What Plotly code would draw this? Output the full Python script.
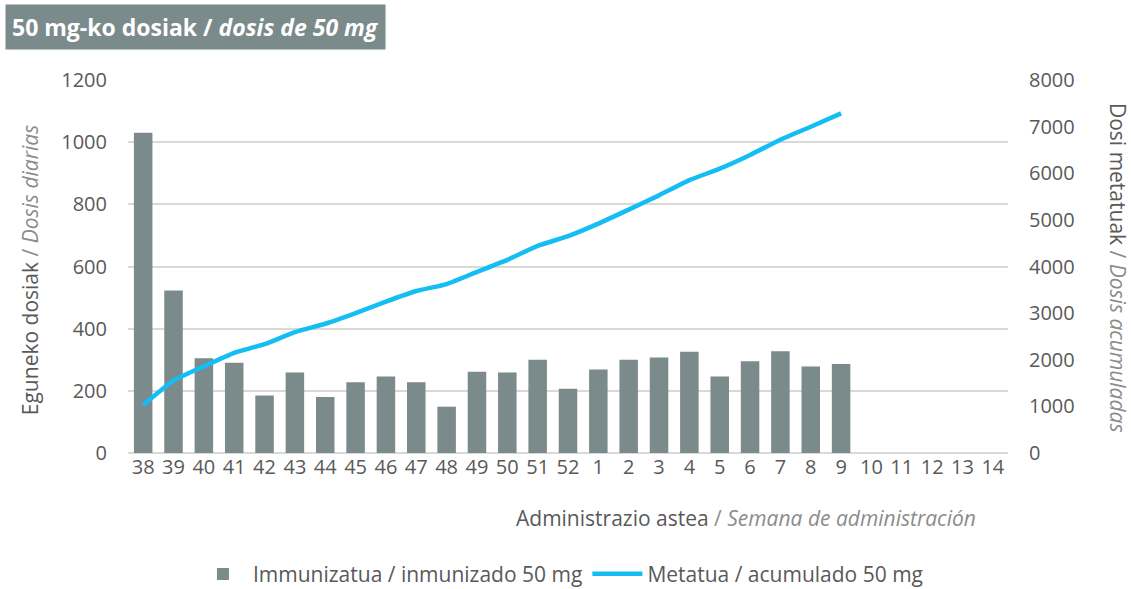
import plotly.graph_objects as go

weeks = ["38", "39", "40", "41", "42", "43", "44", "45", "46", "47", "48", "49", "50", "51", "52",
         "1", "2", "3", "4", "5", "6", "7", "8", "9", "10", "11", "12", "13", "14"]
daily = [1030, 523, 305, 290, 185, 259, 180, 228, 246, 228, 149, 261, 259, 300, 207,
         269, 300, 307, 326, 246, 295, 327, 278, 286, None, None, None, None, None]
cumulative = [1030, 1553, 1858, 2148, 2333, 2592, 2772, 3000, 3246, 3474, 3623, 3884, 4143, 4443, 4650,
              4919, 5219, 5526, 5852, 6098, 6393, 6720, 6998, 7284, None, None, None, None, None]

BAR = "#7B8B8B"
LINE = "#14BEF3"
TXT = "#595959"
LIGHT = "#8C8C8C"
FONT = "Open Sans"
TS = 21

fig = go.Figure()
fig.add_trace(go.Bar(x=weeks, y=daily, name="Immunizatua / inmunizado 50 mg",
                     marker=dict(color=BAR, line=dict(width=0))))
fig.add_trace(go.Scatter(x=weeks, y=cumulative, name="Metatua / acumulado 50 mg",
                         mode="lines", line=dict(color=LINE, width=4.5, shape="spline", smoothing=0.5),
                         yaxis="y2"))

fig.update_layout(
    width=1131, height=589,
    margin=dict(l=128, r=123, t=80, b=136, autoexpand=False),
    paper_bgcolor="white", plot_bgcolor="white",
    font=dict(family=FONT, size=TS, color=TXT),
    bargap=0.39,
    showlegend=True,
    legend=dict(orientation="h", x=0.492, xanchor="center", y=-0.325, yanchor="middle",
                font=dict(size=TS, color=TXT), itemwidth=50, traceorder="normal",
                tracegroupgap=0, borderwidth=0),
    xaxis=dict(type="category", showgrid=False, showline=False, zeroline=False,
               tickfont=dict(size=20, color=TXT), ticks=""),
    yaxis=dict(range=[0, 1200], dtick=200, showgrid=True, gridcolor="#D9D9D9", gridwidth=1.5,
               zeroline=True, zerolinecolor="#D9D9D9", zerolinewidth=1.5, showline=False,
               tickfont=dict(size=20, color=TXT), ticklabelstandoff=20),
    yaxis2=dict(range=[0, 8000], dtick=1000, overlaying="y", side="right", showgrid=False,
                zeroline=False, showline=False, tickfont=dict(size=20, color=TXT),
                ticklabelstandoff=20),
)

fig.add_annotation(xref="paper", yref="paper", x=-0.1398, y=1.204, xanchor="left", yanchor="top",
                   text="<b>50 mg-ko dosiak / <i>dosis de 50 mg</i></b>",
                   font=dict(family=FONT, size=23, color="white"),
                   bgcolor=BAR, borderpad=6, showarrow=False)
fig.add_annotation(xref="paper", yref="paper", x=-0.1114, y=0.49, xanchor="center", yanchor="middle",
                   textangle=-90,
                   text=f"Eguneko dosiak <span style='color:{LIGHT}'>/ <i>Dosis diarias</i></span>",
                   font=dict(family=FONT, size=TS, color=TXT), showarrow=False)
fig.add_annotation(xref="paper", yref="paper", x=1.125, y=0.496, xanchor="center", yanchor="middle",
                   textangle=90,
                   text=f"Dosi metatuak <span style='color:{LIGHT}'>/ <i>Dosis acumuladas</i></span>",
                   font=dict(family=FONT, size=TS, color=TXT), showarrow=False)
fig.add_annotation(xref="paper", yref="paper", x=0.966, y=-0.174, xanchor="right", yanchor="middle",
                   text=f"Administrazio astea <span style='color:{LIGHT}'>/ <i>Semana de administración</i></span>",
                   font=dict(family=FONT, size=TS, color=TXT), showarrow=False)

fig.write_html("out.html", config={"displayModeBar": False},
               post_script="document.body.style.margin='0';document.body.style.overflow='hidden';")
